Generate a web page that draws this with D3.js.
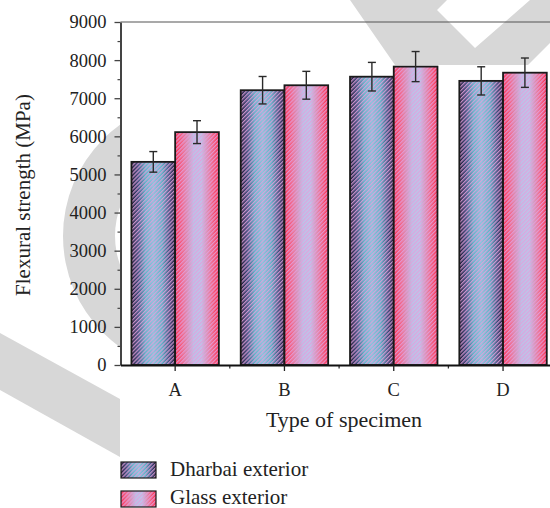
<!DOCTYPE html>
<html>
<head>
<meta charset="utf-8">
<script src="https://cdn.jsdelivr.net/npm/d3@7"></script>
<style>
  html, body { margin: 0; padding: 0; background: #fff; }
  svg { display: block; font-family: "Liberation Serif", "Times New Roman", serif; }
</style>
</head>
<body>
<svg id="chart" width="550" height="508"></svg>
<script>
// Specimen types and the two exterior finishes
const categories = ["A", "B", "C", "D"];
const seriesNames = ["Dharbai exterior", "Glass exterior"];
// Mean flexural strength (MPa) per specimen type
const dharbaiValues = [5330, 7210, 7565, 7455];
const glassValues = [6110, 7340, 7830, 7670];
// Standard deviations shown as error bars
const dharbaiErrors = [270, 360, 375, 370];
const glassErrors = [300, 365, 395, 385];
const yTicks = [0, 1000, 2000, 3000, 4000, 5000, 6000, 7000, 8000, 9000];

const svg = d3.select("#chart");
const plotLeft = 120.5, plotRight = 557.7, plotTop = 22, plotBottom = 365;

const x = d3.scaleBand().domain(categories).range([plotLeft, plotRight]).paddingInner(0.2).paddingOuter(0.1);
const xs = d3.scaleBand().domain(seriesNames).range([0, x.bandwidth()]);
const y = d3.scaleLinear().domain([0, 9000]).range([plotBottom, plotTop]);

const defs = svg.append("defs");

// Background watermark shapes
const wm = svg.append("g").attr("fill", "#d7d7d7");
defs.append("clipPath").attr("id", "leftClip")
  .append("rect").attr("x", 0).attr("y", 0).attr("width", 120).attr("height", 508);
const ring = d3.arc()({ innerRadius: 85, outerRadius: 137, startAngle: 0, endAngle: 2 * Math.PI });
wm.append("g").attr("clip-path", "url(#leftClip)")
  .append("path").attr("d", ring).attr("transform", "translate(200,236)");
wm.append("polygon").attr("points", "0,333 120,399 120,457 0,390");
wm.append("path").attr("fill-rule", "evenodd")
  .attr("d", "M350,0 L395,65 L528,65 L550,43 L550,0 Z M447,0 L437,10 L475,48 L530,0 Z");

// Bar fills: a horizontal colour gradient under a diagonal hatch
function gradient(id, stops) {
  const g = defs.append("linearGradient").attr("id", id)
    .attr("x1", 0).attr("x2", 1).attr("y1", 0).attr("y2", 0);
  stops.forEach(([o, c]) => g.append("stop").attr("offset", o).attr("stop-color", c));
}
gradient("gradDharbai", [[0, "#1c1830"], [0.14, "#3a4676"], [0.32, "#5ab6c8"], [0.5, "#86c6dc"],
  [0.7, "#58b4c6"], [0.88, "#3a4676"], [1, "#1c1830"]]);
gradient("gradGlass", [[0, "#ff2a4c"], [0.18, "#f06a8c"], [0.42, "#b8c4e8"], [0.6, "#bcc6ea"],
  [0.82, "#f06c8c"], [1, "#ff2646"]]);

const hatch = defs.append("pattern").attr("id", "hatch").attr("patternUnits", "userSpaceOnUse")
  .attr("width", 2.8).attr("height", 2.8).attr("patternTransform", "rotate(45)");
hatch.append("rect").attr("x", 0).attr("y", 0).attr("width", 1.3).attr("height", 2.8)
  .attr("fill", "#e2a0dc").attr("fill-opacity", 0.85);

const gradIds = ["gradDharbai", "gradGlass"];
const values = [dharbaiValues, glassValues];
const errors = [dharbaiErrors, glassErrors];

const rows = [];
categories.forEach((c, i) => seriesNames.forEach((s, k) => rows.push({
  cat: c, series: s, k, value: values[k][i], err: errors[k][i]
})));

// Top frame line
svg.append("line").attr("x1", plotLeft).attr("x2", 550).attr("y1", plotTop).attr("y2", plotTop)
  .attr("stroke", "#555").attr("stroke-width", 1.2);

// Bars
const bars = svg.append("g").selectAll("g").data(rows).join("g");
const bx = d => x(d.cat) + xs(d.series);
bars.append("rect").attr("x", bx).attr("y", d => y(d.value))
  .attr("width", xs.bandwidth()).attr("height", d => y(0) - y(d.value))
  .attr("fill", d => `url(#${gradIds[d.k]})`);
bars.append("rect").attr("x", bx).attr("y", d => y(d.value))
  .attr("width", xs.bandwidth()).attr("height", d => y(0) - y(d.value))
  .attr("fill", "url(#hatch)")
  .attr("stroke", "#1a1a1a").attr("stroke-width", 1.8);

// Error bars
const eb = svg.append("g").attr("stroke", "#2a2a2a").attr("stroke-width", 1.4);
const cx = d => bx(d) + xs.bandwidth() / 2;
eb.selectAll(".v").data(rows).join("line")
  .attr("x1", cx).attr("x2", cx).attr("y1", d => y(d.value + d.err)).attr("y2", d => y(d.value - d.err));
eb.selectAll(".t").data(rows).join("line")
  .attr("x1", d => cx(d) - 4).attr("x2", d => cx(d) + 4)
  .attr("y1", d => y(d.value + d.err)).attr("y2", d => y(d.value + d.err));
eb.selectAll(".b").data(rows).join("line")
  .attr("x1", d => cx(d) - 4).attr("x2", d => cx(d) + 4)
  .attr("y1", d => y(d.value - d.err)).attr("y2", d => y(d.value - d.err));

// Y axis with minor ticks
const minor = d3.range(500, 9000, 1000);
const yMinor = svg.append("g").attr("transform", `translate(${plotLeft},0)`)
  .call(d3.axisLeft(y).tickValues(minor).tickSize(3).tickFormat(""));
yMinor.select(".domain").remove();
yMinor.selectAll("line").attr("stroke", "#444").attr("stroke-width", 1.2);
const yAxis = svg.append("g").attr("transform", `translate(${plotLeft},0)`)
  .call(d3.axisLeft(y).tickValues(yTicks).tickSize(6).tickSizeOuter(0).tickPadding(8).tickFormat(d3.format("d")));
yAxis.select(".domain").attr("stroke", "#444").attr("stroke-width", 2);
yAxis.selectAll(".tick line").attr("stroke", "#444").attr("stroke-width", 1.3);
yAxis.selectAll("text").attr("font-size", 18.5).attr("fill", "#222")
  .attr("font-family", "Liberation Serif, serif");

// X axis
const xMinorVals = categories.slice(0, -1).map(c => x(c) + x.step() - x.step() * x.paddingInner() / 2);
svg.append("g").selectAll("line").data(xMinorVals).join("line")
  .attr("x1", d => d).attr("x2", d => d).attr("y1", plotBottom).attr("y2", plotBottom + 3.5)
  .attr("stroke", "#333").attr("stroke-width", 1.3);
const xAxis = svg.append("g").attr("transform", `translate(0,${plotBottom})`)
  .call(d3.axisBottom(x).tickSize(6).tickSizeOuter(0).tickPadding(12));
xAxis.select(".domain").attr("stroke", "#111").attr("stroke-width", 2.2);
xAxis.selectAll(".tick line").attr("stroke", "#222").attr("stroke-width", 1.3);
xAxis.selectAll("text").attr("font-size", 18.5).attr("fill", "#222")
  .attr("font-family", "Liberation Serif, serif");

// Axis titles
svg.append("text").attr("transform", "translate(30,195) rotate(-90)")
  .attr("text-anchor", "middle").attr("font-size", 21).attr("fill", "#222")
  .text("Flexural strength (MPa)");
svg.append("text").attr("x", 344).attr("y", 426.5)
  .attr("text-anchor", "middle").attr("font-size", 22).attr("fill", "#222")
  .text("Type of specimen");

// Legend
const legend = svg.append("g").selectAll("g").data(seriesNames).join("g")
  .attr("transform", (d, i) => `translate(121,${462 + i * 29})`);
legend.append("rect").attr("width", 35).attr("height", 16)
  .attr("fill", (d, i) => `url(#${gradIds[i]})`);
legend.append("rect").attr("width", 35).attr("height", 16)
  .attr("fill", "url(#hatch)").attr("stroke", "#1a1a1a").attr("stroke-width", 1.2);
legend.append("text").attr("x", 49).attr("y", (d, i) => i === 0 ? 14 : 12.5)
  .attr("font-size", 21).attr("fill", "#222")
  .text(d => d);
</script>
</body>
</html>
